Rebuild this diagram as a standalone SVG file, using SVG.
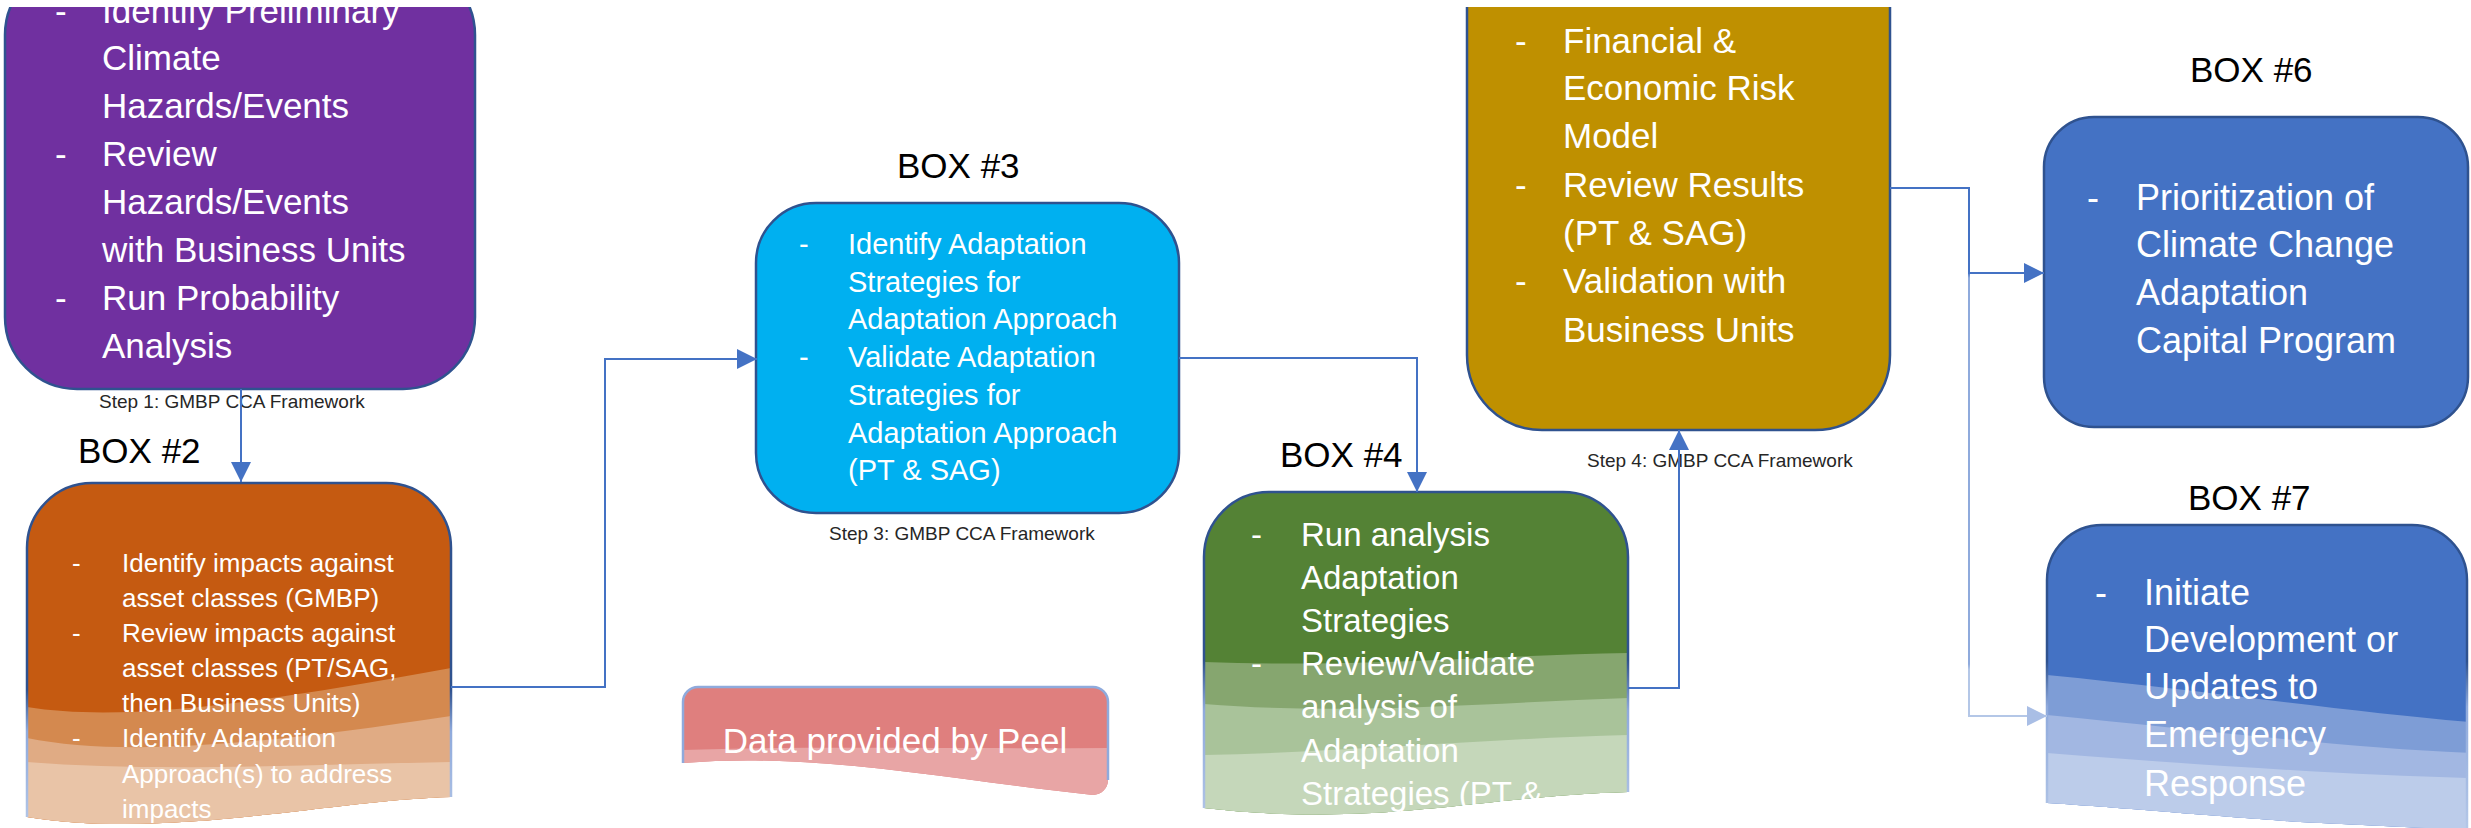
<svg xmlns="http://www.w3.org/2000/svg" width="2471" height="828" viewBox="0 0 2471 828">
<style>
.t{font-family:"Liberation Sans",Arial,sans-serif;fill:#ffffff}
.lbl{font-family:"Liberation Sans",Arial,sans-serif;fill:#000000;font-size:35px}
.step{font-family:"Liberation Sans",Arial,sans-serif;fill:#262626;font-size:19px}
.box{stroke:#2F528F;stroke-width:2.5}
.con{fill:none;stroke:#4472C4;stroke-width:2}
</style>
<defs>
<marker id="arr" viewBox="0 0 20 20" refX="20" refY="10" markerWidth="20" markerHeight="20" markerUnits="userSpaceOnUse" orient="auto">
<path d="M0,0 L20,10 L0,20 Z" fill="#4472C4"/>
</marker>
<marker id="arrL" viewBox="0 0 20 20" refX="20" refY="10" markerWidth="20" markerHeight="20" markerUnits="userSpaceOnUse" orient="auto">
<path d="M0,0 L20,10 L0,20 Z" fill="#A9BEE5"/>
</marker>
<clipPath id="topcut"><rect x="0" y="7" width="2471" height="821"/></clipPath>
<clipPath id="c2"><path d="M27,817 V548 A65,65 0 0 1 92,483 H386 A65,65 0 0 1 451,548 V797 C330,800 170,840 27,817 Z"/></clipPath>
<clipPath id="c4"><path d="M1204,808 V557 A65,65 0 0 1 1269,492 H1563 A65,65 0 0 1 1628,557 V792 C1480,796 1380,828 1204,808 Z"/></clipPath>
<clipPath id="c7"><path d="M2047,803 V580 A55,55 0 0 1 2102,525 H2412 A55,55 0 0 1 2467,580 V830 L2300,822 C2200,815 2100,806 2047,803 Z"/></clipPath>
<clipPath id="cd"><path d="M683,763 V702 A15,15 0 0 1 698,687 H1093 A15,15 0 0 1 1108,702 V780 A15,15 0 0 1 1093,795 C950,780 820,752 683,763 Z"/></clipPath>
<linearGradient id="s2" gradientUnits="userSpaceOnUse" x1="0" y1="483" x2="0" y2="828">
<stop offset="0" stop-color="#2F528F"/><stop offset="0.6" stop-color="#2F528F"/><stop offset="0.72" stop-color="#8FAADC"/><stop offset="1" stop-color="#B4C7E7"/>
</linearGradient>
<linearGradient id="s4" gradientUnits="userSpaceOnUse" x1="0" y1="492" x2="0" y2="828">
<stop offset="0" stop-color="#2F528F"/><stop offset="0.5" stop-color="#2F528F"/><stop offset="0.65" stop-color="#8FAADC"/><stop offset="1" stop-color="#B4C7E7"/>
</linearGradient>
<linearGradient id="s7" gradientUnits="userSpaceOnUse" x1="0" y1="525" x2="0" y2="828">
<stop offset="0" stop-color="#2F528F"/><stop offset="0.45" stop-color="#2F528F"/><stop offset="0.6" stop-color="#8FAADC"/><stop offset="1" stop-color="#B4C7E7"/>
</linearGradient>
<linearGradient id="g7c" gradientUnits="userSpaceOnUse" x1="0" y1="188" x2="0" y2="717">
<stop offset="0" stop-color="#4472C4"/><stop offset="0.16" stop-color="#4472C4"/><stop offset="0.17" stop-color="#8FAADC"/><stop offset="0.9" stop-color="#8FAADC"/><stop offset="0.91" stop-color="#B4C7E7"/><stop offset="1" stop-color="#B4C7E7"/>
</linearGradient>
</defs>
<rect x="0" y="0" width="2471" height="828" fill="#ffffff"/>

<g id="box1" clip-path="url(#topcut)">
<rect class="box" x="5" y="-37" width="470" height="426" rx="72" ry="72" fill="#7030A0"/>
<g class="t" font-size="35">
<text x="55" y="23">-</text><text x="102" y="23">Identify Preliminary</text>
<text x="102" y="70">Climate</text>
<text x="102" y="118">Hazards/Events</text>
<text x="55" y="166">-</text><text x="102" y="166">Review</text>
<text x="102" y="214">Hazards/Events</text>
<text x="102" y="262">with Business Units</text>
<text x="55" y="310">-</text><text x="102" y="310">Run Probability</text>
<text x="102" y="358">Analysis</text>
</g>
</g>
<text class="step" x="99" y="408">Step 1: GMBP CCA Framework</text>

<g id="box2">
<text class="lbl" x="78" y="463">BOX #2</text>
<g clip-path="url(#c2)">
<rect x="20" y="480" width="440" height="350" fill="#C55A11"/>
<path d="M27,707 C120,722 250,705 451,668 V840 H27 Z" fill="#D4894F"/>
<path d="M27,738 C120,757 260,745 451,716 V840 H27 Z" fill="#E0AB84"/>
<path d="M27,762 C150,772 300,765 451,762 V840 H27 Z" fill="#E9C4A7"/>
</g>
<path d="M27,817 V548 A65,65 0 0 1 92,483 H386 A65,65 0 0 1 451,548 V797" fill="none" stroke="url(#s2)" stroke-width="2.5"/>
<g class="t" font-size="26">
<text x="72" y="572">-</text><text x="122" y="572">Identify impacts against</text>
<text x="122" y="607">asset classes (GMBP)</text>
<text x="72" y="642">-</text><text x="122" y="642">Review impacts against</text>
<text x="122" y="677">asset classes (PT/SAG,</text>
<text x="122" y="712">then Business Units)</text>
<text x="72" y="747">-</text><text x="122" y="747">Identify Adaptation</text>
<text x="122" y="783">Approach(s) to address</text>
<text x="122" y="818">impacts</text>
</g>
</g>

<g id="box3">
<text class="lbl" x="897" y="178">BOX #3</text>
<rect class="box" x="756" y="203" width="423" height="310" rx="60" ry="60" fill="#00B0F0"/>
<g class="t" font-size="29">
<text x="799" y="254">-</text><text x="848" y="254">Identify Adaptation</text>
<text x="848" y="292">Strategies for</text>
<text x="848" y="329">Adaptation Approach</text>
<text x="799" y="367">-</text><text x="848" y="367">Validate Adaptation</text>
<text x="848" y="405">Strategies for</text>
<text x="848" y="443">Adaptation Approach</text>
<text x="848" y="480">(PT &amp; SAG)</text>
</g>
<text class="step" x="829" y="540">Step 3: GMBP CCA Framework</text>
</g>

<g id="data">
<g clip-path="url(#cd)">
<rect x="680" y="684" width="432" height="115" fill="#DF7F7E"/>
<path d="M683,750 C800,746 950,749 1108,748 V800 H683 Z" fill="#E8A5A5"/>
</g>
<path d="M683,763 V702 A15,15 0 0 1 698,687 H1093 A15,15 0 0 1 1108,702 V780" fill="none" stroke="#8FAADC" stroke-width="2.5"/>
<text class="t" font-size="35" x="895" y="753" text-anchor="middle">Data provided by Peel</text>
</g>

<g id="box4">
<text class="lbl" x="1280" y="467">BOX #4</text>
<g clip-path="url(#c4)">
<rect x="1200" y="488" width="432" height="340" fill="#548235"/>
<path d="M1204,662 C1350,668 1500,655 1628,653 V840 H1204 Z" fill="#86A66F"/>
<path d="M1204,704 C1350,716 1500,702 1628,698 V840 H1204 Z" fill="#A9C39A"/>
<path d="M1204,755 C1350,752 1500,738 1628,735 V840 H1204 Z" fill="#C5D7BA"/>
</g>
<path d="M1204,808 V557 A65,65 0 0 1 1269,492 H1563 A65,65 0 0 1 1628,557 V792" fill="none" stroke="url(#s4)" stroke-width="2.5"/>
<g class="t" font-size="33">
<text x="1251" y="546">-</text><text x="1301" y="546">Run analysis</text>
<text x="1301" y="589">Adaptation</text>
<text x="1301" y="632">Strategies</text>
<text x="1251" y="675">-</text><text x="1301" y="675">Review/Validate</text>
<text x="1301" y="718">analysis of</text>
<text x="1301" y="762">Adaptation</text>
<text x="1301" y="805">Strategies (PT &amp;</text>
</g>
</g>

<g id="box5">
<g clip-path="url(#topcut)">
<rect class="box" x="1467" y="-100" width="423" height="530" rx="75" ry="75" fill="#BF9000"/>
<g class="t" font-size="35">
<text x="1515" y="53">-</text><text x="1563" y="53">Financial &amp;</text>
<text x="1563" y="100">Economic Risk</text>
<text x="1563" y="148">Model</text>
<text x="1515" y="197">-</text><text x="1563" y="197">Review Results</text>
<text x="1563" y="245">(PT &amp; SAG)</text>
<text x="1515" y="293">-</text><text x="1563" y="293">Validation with</text>
<text x="1563" y="342">Business Units</text>
</g>
</g>
<text class="step" x="1587" y="467">Step 4: GMBP CCA Framework</text>
</g>

<g id="box6">
<text class="lbl" x="2190" y="82">BOX #6</text>
<rect class="box" x="2044" y="117" width="424" height="310" rx="50" ry="50" fill="#4472C4"/>
<g class="t" font-size="36">
<text x="2087" y="210">-</text><text x="2136" y="210">Prioritization of</text>
<text x="2136" y="257">Climate Change</text>
<text x="2136" y="305">Adaptation</text>
<text x="2136" y="353">Capital Program</text>
</g>
</g>

<g id="box7">
<text class="lbl" x="2188" y="510">BOX #7</text>
<g clip-path="url(#c7)">
<rect x="2040" y="520" width="431" height="310" fill="#4472C4"/>
<path d="M2047,675 C2200,690 2350,712 2471,722 V840 H2047 Z" fill="#7E9DD6"/>
<path d="M2047,715 C2200,730 2350,748 2471,753 V840 H2047 Z" fill="#A2B7E2"/>
<path d="M2047,753 C2200,765 2350,775 2471,778 V840 H2047 Z" fill="#BCCCEA"/>
</g>
<path d="M2047,803 V580 A55,55 0 0 1 2102,525 H2412 A55,55 0 0 1 2467,580 V828" fill="none" stroke="url(#s7)" stroke-width="2.5"/>
<g class="t" font-size="36">
<text x="2095" y="605">-</text><text x="2144" y="605">Initiate</text>
<text x="2144" y="652">Development or</text>
<text x="2144" y="699">Updates to</text>
<text x="2144" y="747">Emergency</text>
<text x="2144" y="796">Response</text>
</g>
</g>

<g id="connectors">
<path class="con" d="M241,389 V482" marker-end="url(#arr)"/>
<path class="con" d="M451,687 H605 V359 H757" marker-end="url(#arr)"/>
<path class="con" d="M1179,358 H1417 V492" marker-end="url(#arr)"/>
<path class="con" d="M1628,688 H1679 V430" marker-end="url(#arr)"/>
<path d="M1890,188 H1969 V716 H2047" fill="none" stroke="url(#g7c)" stroke-width="2" marker-end="url(#arrL)"/>
<path class="con" d="M1890,188 H1969 V273 H2044" marker-end="url(#arr)"/>
</g>
</svg>
